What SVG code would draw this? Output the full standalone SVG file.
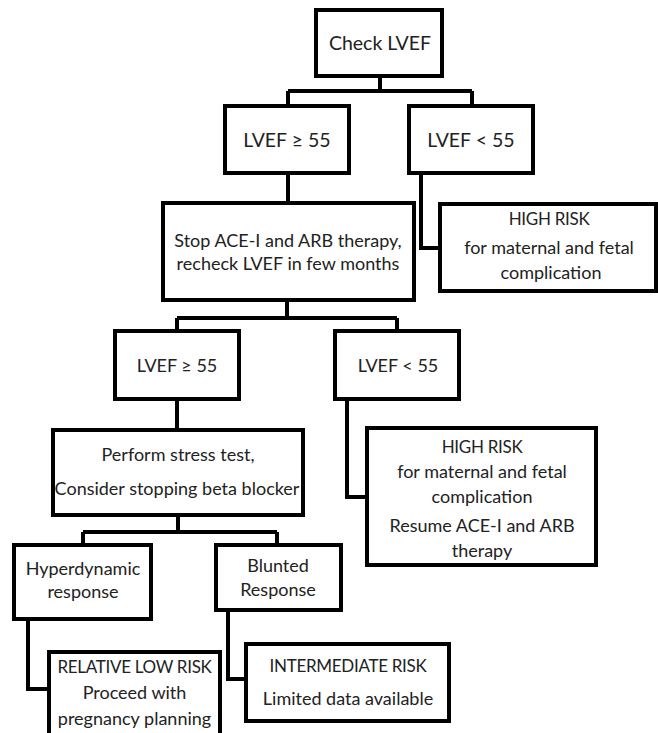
<svg xmlns="http://www.w3.org/2000/svg" width="658" height="733" viewBox="0 0 658 733">
<style>
.box{fill:#fff;stroke:#000;stroke-width:4}
.con{fill:none;stroke:#000;stroke-width:4}
text{font-family:Lato,"Open Sans",sans-serif;font-size:18px;fill:#222;text-anchor:middle}
.big{font-size:19.5px}
.caps{font-size:17px;letter-spacing:-0.3px}
</style>
<rect width="658" height="733" fill="#fff"/>
<g id="connectors">
<path class="con" d="M380,77V91M288,91H472M288,91V106M472,91V106"/>
<path class="con" d="M288,174V203"/>
<path class="con" d="M421,174V248H439"/>
<path class="con" d="M287,301V318M177,318H397M177,318V331M397,318V330"/>
<path class="con" d="M177,400V429"/>
<path class="con" d="M347,400V497H366"/>
<path class="con" d="M178,516V532M83,532H277M83,532V544M277,532V544"/>
<path class="con" d="M28,620V689H48"/>
<path class="con" d="M228,611V679H245"/>
</g>
<g id="check">
<rect class="box" x="316" y="10" width="126" height="66"/>
<text class="big" x="380" y="50">Check LVEF</text>
</g>
<g id="lvef-ge-1">
<rect class="box" x="225" y="106" width="124" height="67"/>
<text class="big" x="287" y="147">LVEF ≥ 55</text>
</g>
<g id="lvef-lt-1">
<rect class="box" x="409" y="106" width="124" height="67"/>
<text class="big" x="471" y="147">LVEF &lt; 55</text>
</g>
<g id="stop">
<rect class="box" x="163" y="203" width="251" height="97"/>
<text x="288" y="247">Stop ACE-I and ARB therapy,</text>
<text x="288" y="270">recheck LVEF in few months</text>
</g>
<g id="high-risk-1">
<rect class="box" x="440" y="204" width="216" height="87"/>
<text class="caps" x="549" y="225">HIGH RISK</text>
<text x="549" y="254">for maternal and fetal</text>
<text x="551" y="279">complication</text>
</g>
<g id="lvef-ge-2">
<rect class="box" x="115" y="331" width="124" height="68"/>
<text x="177" y="372">LVEF  ≥ 55</text>
</g>
<g id="lvef-lt-2">
<rect class="box" x="335" y="331" width="124" height="68"/>
<text x="398" y="372">LVEF &lt; 55</text>
</g>
<g id="perform">
<rect class="box" x="53" y="430" width="250" height="85"/>
<text x="178" y="461">Perform stress test,</text>
<text x="177" y="495">Consider stopping beta blocker</text>
</g>
<g id="high-risk-2">
<rect class="box" x="367" y="428" width="229" height="137"/>
<text class="caps" x="482" y="453">HIGH RISK</text>
<text x="482" y="478">for maternal and fetal</text>
<text x="482" y="503">complication</text>
<text x="482" y="532">Resume ACE-I and ARB</text>
<text x="482" y="557">therapy</text>
</g>
<g id="hyperdynamic">
<rect class="box" x="14" y="545" width="137" height="74"/>
<text x="83" y="575">Hyperdynamic</text>
<text x="83" y="598">response</text>
</g>
<g id="blunted">
<rect class="box" x="216" y="545" width="125" height="65"/>
<text x="278" y="572">Blunted</text>
<text x="278" y="596">Response</text>
</g>
<g id="low-risk">
<rect class="box" x="49" y="652" width="171" height="90"/>
<text class="caps" x="134.5" y="673">RELATIVE LOW RISK</text>
<text x="134.5" y="699">Proceed with</text>
<text x="134.5" y="725">pregnancy planning</text>
</g>
<g id="intermediate">
<rect class="box" x="246" y="644" width="203" height="77"/>
<text class="caps" x="348" y="672">INTERMEDIATE RISK</text>
<text x="348" y="705">Limited data available</text>
</g>
</svg>
